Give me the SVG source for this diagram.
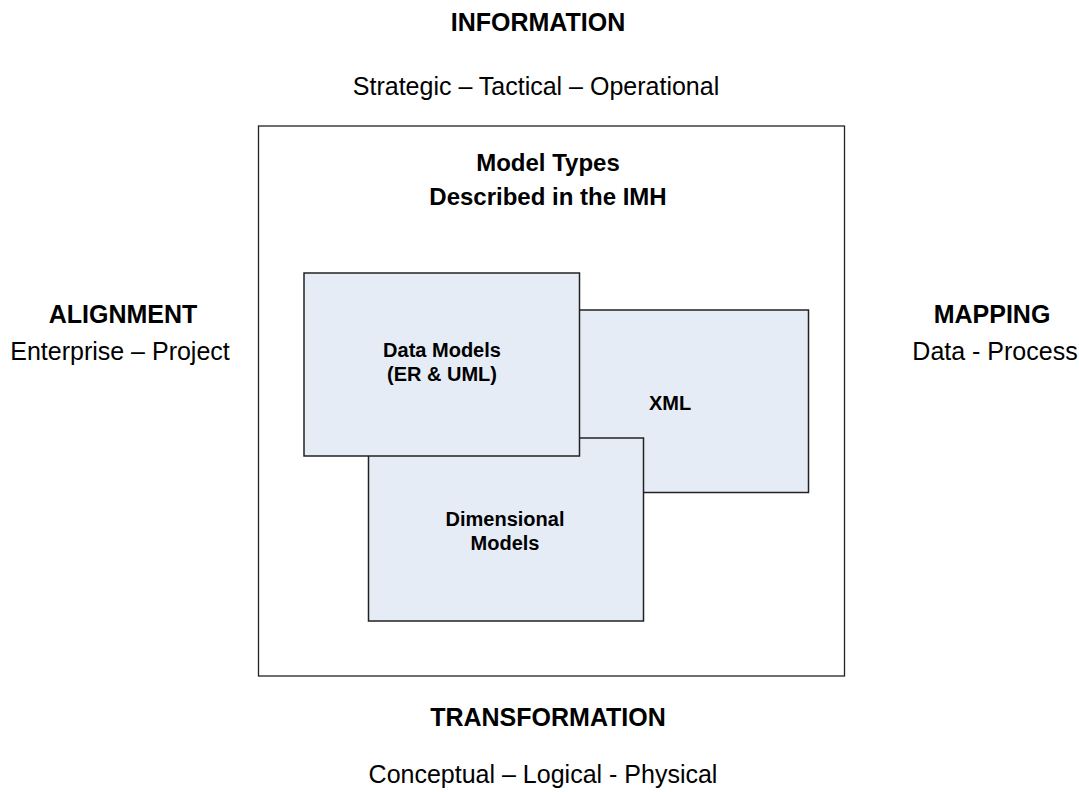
<svg xmlns="http://www.w3.org/2000/svg" width="1079" height="792" viewBox="0 0 1079 792">
  <style>
    text { font-family: "Liberation Sans", Arial, sans-serif; fill: #000; text-anchor: middle; }
    .head { font-size: 25px; font-weight: bold; }
    .sub { font-size: 25px; }
    .title { font-size: 24px; font-weight: bold; }
    .inner { font-size: 20px; font-weight: bold; }
    .frame { fill: #fff; stroke: #222; stroke-width: 1.3; }
    .model { fill: #E6ECF6; stroke: #222; stroke-width: 1.5; }
  </style>

  <rect width="1079" height="792" fill="#fff"/>

  <!-- Dimension labels around the frame -->
  <g id="information">
    <text class="head" x="538" y="31">INFORMATION</text>
    <text class="sub" x="536" y="95">Strategic – Tactical – Operational</text>
  </g>
  <g id="alignment">
    <text class="head" x="123" y="323">ALIGNMENT</text>
    <text class="sub" x="120" y="360">Enterprise – Project</text>
  </g>
  <g id="mapping">
    <text class="head" x="992" y="323">MAPPING</text>
    <text class="sub" x="995" y="360">Data - Process</text>
  </g>
  <g id="transformation">
    <text class="head" x="548" y="726">TRANSFORMATION</text>
    <text class="sub" x="543" y="783">Conceptual – Logical - Physical</text>
  </g>

  <!-- Outer frame -->
  <g id="model-types">
    <rect class="frame" x="258.5" y="126" width="586" height="550"/>
    <text class="title" x="548" y="171">Model Types</text>
    <text class="title" x="548" y="205">Described in the IMH</text>
  </g>

  <!-- Overlapping model boxes (back to front) -->
  <g id="xml">
    <rect class="model" x="579" y="310" width="229.5" height="182.5"/>
    <text class="inner" x="670" y="410">XML</text>
  </g>
  <g id="dimensional-models">
    <rect class="model" x="368.5" y="438" width="275" height="183"/>
    <text class="inner" x="505" y="526">Dimensional</text>
    <text class="inner" x="505" y="550">Models</text>
  </g>
  <g id="data-models">
    <rect class="model" x="304" y="273" width="275.5" height="183"/>
    <text class="inner" x="442" y="357">Data Models</text>
    <text class="inner" x="442" y="381">(ER &amp; UML)</text>
  </g>

  <g id="connectors"/>
</svg>
